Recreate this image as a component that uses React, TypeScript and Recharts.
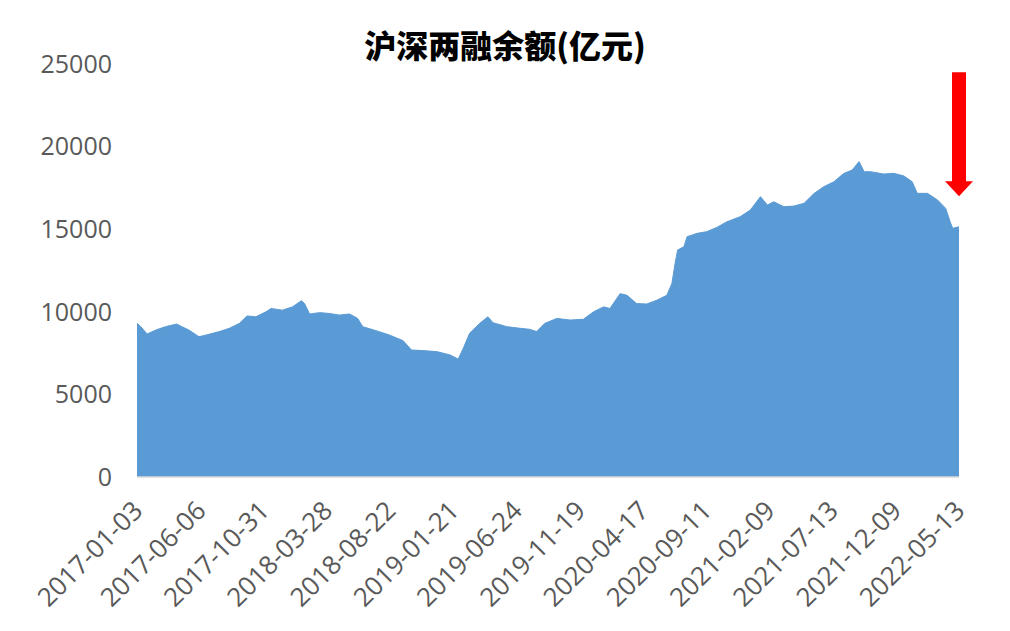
import React from 'react';
import { AreaChart, Area, XAxis, YAxis, ReferenceDot } from 'recharts';

// trading-day index since 2017-01-03 and margin balance (亿元)
const DAY = [
  0, 6, 16, 30, 45, 63, 71, 82, 98, 114,
  130, 146, 162, 174, 188, 204, 212, 230, 246, 260,
  265, 273, 289, 304, 320, 336, 349, 357, 378, 399,
  421, 434, 452, 474, 495, 508, 516, 526, 542, 555,
  563, 585, 606, 621, 632, 645, 664, 685, 706, 722,
  738, 748, 764, 775, 790, 806, 822, 838, 846, 851,
  855, 865, 870, 886, 901, 917, 933, 954, 970, 986,
  997, 1007, 1023, 1039, 1055, 1071, 1086, 1102, 1118, 1131,
  1142, 1150, 1160, 1181, 1197, 1213, 1226, 1234, 1250, 1266,
  1279, 1286, 1290, 1300,
];

const BALANCE = [
  9300, 9100, 8660, 8900, 9100, 9260, 9100, 8900, 8490, 8640,
  8800, 9000, 9300, 9750, 9700, 10000, 10200, 10100, 10300, 10670,
  10500, 9870, 9950, 9900, 9800, 9870, 9600, 9100, 8860, 8600,
  8250, 7690, 7650, 7590, 7390, 7140, 7790, 8700, 9300, 9700,
  9340, 9100, 9000, 8940, 8800, 9300, 9600, 9500, 9550, 10000,
  10300, 10200, 11100, 11000, 10500, 10470, 10700, 11000, 11720, 12940,
  13740, 13940, 14550, 14750, 14850, 15110, 15450, 15760, 16160, 16970,
  16460, 16660, 16360, 16400, 16570, 17170, 17570, 17870, 18380, 18580,
  19090, 18480, 18480, 18340, 18380, 18220, 17870, 17170, 17170, 16770,
  16260, 15450, 15050, 15150,
];

const DATE_LABELS = [
  '2017-01-03', '2017-06-06', '2017-10-31', '2018-03-28', '2018-08-22',
  '2019-01-21', '2019-06-24', '2019-11-19', '2020-04-17', '2020-09-11',
  '2021-02-09', '2021-07-13', '2021-12-09', '2022-05-13',
];
const LABEL_STEP = 100;

const Y_TICKS = [0, 5000, 10000, 15000, 20000, 25000];

const data = DAY.map((d, i) => ({ day: d, value: BALANCE[i] }));
const xTicks = DATE_LABELS.map((_, i) => i * LABEL_STEP);

const FONT = '"Open Sans", "Noto Sans", sans-serif';

const DateTick = (props: any) => {
  const { x, y, payload } = props;
  const label = DATE_LABELS[Math.round(payload.value / LABEL_STEP)] ?? '';
  return (
    <g transform={`translate(${x - 4},${y + 16})`}>
      <text
        x={0}
        y={0}
        dy={16}
        textAnchor="end"
        transform="rotate(-45)"
        fill="#595959"
        fontSize={26}
        fontFamily={FONT}
      >
        {label}
      </text>
    </g>
  );
};

const DownArrow = (props: any) => {
  const { cx, cy } = props;
  if (cx == null || cy == null) return null;
  const shaftW = 14;
  const headW = 28;
  const headH = 15;
  const len = 124;
  const d = [
    `M${cx - shaftW / 2},${cy - len}`,
    `L${cx + shaftW / 2},${cy - len}`,
    `L${cx + shaftW / 2},${cy - headH}`,
    `L${cx + headW / 2},${cy - headH}`,
    `L${cx},${cy}`,
    `L${cx - headW / 2},${cy - headH}`,
    `L${cx - shaftW / 2},${cy - headH}`,
    'Z',
  ].join(' ');
  return <path d={d} fill="#FF0000" />;
};

export default function App() {
  return (
    <div style={{ position: 'absolute', left: 0, top: 0, width: 1010, height: 631, background: '#fff' }}>
      <div
        style={{
          position: 'absolute',
          left: 0,
          width: 1010,
          top: 22,
          textAlign: 'center',
          fontFamily: '"Noto Sans CJK SC", sans-serif',
          fontWeight: 900,
          fontSize: 32,
          color: '#000',
          lineHeight: '44px',
        }}
      >
        沪深两融余额(亿元)
      </div>
      <AreaChart
        width={1010}
        height={631}
        data={data}
        margin={{ top: 64, right: 51, bottom: 14, left: 0 }}
      >
        <XAxis
          dataKey="day"
          type="number"
          domain={[0, 1300]}
          ticks={xTicks}
          interval={0}
          tick={<DateTick />}
          tickLine={false}
          axisLine={{ stroke: '#d9d9d9', strokeWidth: 1.5 }}
          height={140}
        />
        <YAxis
          type="number"
          domain={[0, 25000]}
          ticks={Y_TICKS}
          interval={0}
          width={137}
          tickLine={false}
          axisLine={false}
          tickMargin={19}
          tick={{ fill: '#595959', fontSize: 25, fontFamily: FONT }}
        />
        <Area
          type="linear"
          dataKey="value"
          stroke="#5B9BD5"
          strokeWidth={1}
          fill="#5B9BD5"
          fillOpacity={1}
          isAnimationActive={false}
        />
        <ReferenceDot x={1300} y={17000} ifOverflow="visible" shape={<DownArrow />} />
      </AreaChart>
    </div>
  );
}
